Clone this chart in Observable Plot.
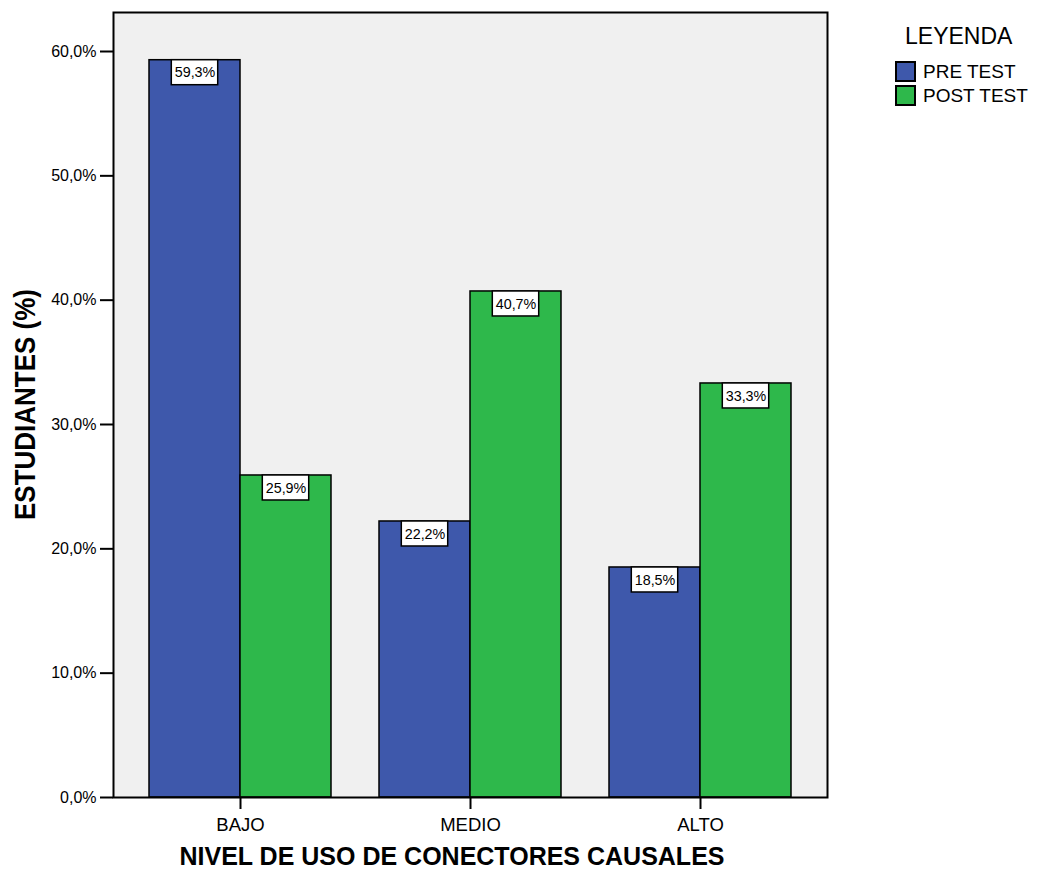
<!DOCTYPE html>
<html>
<head>
<meta charset="utf-8">
<script src="https://cdn.jsdelivr.net/npm/d3@7"></script>
<script src="https://cdn.jsdelivr.net/npm/@observablehq/plot@0.6"></script>
<style>
  html, body { margin: 0; padding: 0; background: #ffffff; }
  #wrap { position: relative; width: 1038px; height: 870px; font-family: "Liberation Sans", Arial, sans-serif; }
  #wrap svg { position: absolute; left: 0; top: 0; }
</style>
</head>
<body>
<div id="wrap"></div>
<script>
// ---- data ----
const categories = ["BAJO", "MEDIO", "ALTO"];
const seriesNames = ["PRE TEST", "POST TEST"];
const preTest = [59.3, 22.2, 18.5];
const postTest = [25.9, 40.7, 33.3];
const yTicks = [0, 10, 20, 30, 40, 50, 60];
const seriesColors = ["#3e58ab", "#2eb84b"];
const legendTitle = "LEYENDA";
const xTitle = "NIVEL DE USO DE CONECTORES CAUSALES";
const yTitle = "ESTUDIANTES (%)";

const preRows = categories.map((c, i) => ({cat: c, serie: seriesNames[0], value: preTest[i]}));
const postRows = categories.map((c, i) => ({cat: c, serie: seriesNames[1], value: postTest[i]}));
const fmt = v => v.toFixed(1).replace(".", ",") + "%";
const FONT = "'Liberation Sans', Arial, sans-serif";

// half of a category band (each group = two adjacent bars)
const HALF = 91;
const BOX_IN = 22.3;

function seriesMarks(rows, side) {
  const left = side === "left";
  return [
    Plot.barY(rows, {x: "cat", y: "value", fill: "serie", stroke: "black", strokeWidth: 1.5,
      insetLeft: left ? 0 : HALF, insetRight: left ? HALF : 0}),
    Plot.barY(rows, {x: "cat", y1: "value", y2: "value",
      insetLeft: left ? BOX_IN : HALF + BOX_IN, insetRight: left ? HALF + BOX_IN : BOX_IN,
      insetBottom: -25, fill: "white", stroke: "black", strokeWidth: 1.5}),
    Plot.text(rows, {x: "cat", y: "value", text: d => fmt(d.value),
      dx: left ? -HALF / 2 : HALF / 2, dy: 12.5, fontSize: 14.3, fill: "black", lineAnchor: "middle"})
  ];
}

const chart = Plot.plot({
  width: 1038,
  height: 870,
  marginLeft: 113,
  marginRight: 211,
  marginTop: 12,
  marginBottom: 73,
  style: {fontFamily: FONT, background: "transparent", color: "black", overflow: "visible"},
  x: {domain: categories, paddingInner: 0.2087, paddingOuter: 0.1565, label: null},
  y: {domain: [0, 63.137], label: null},
  color: {domain: seriesNames, range: seriesColors},
  marks: [
    Plot.frame({fill: "#f0f0f0"}),
    ...seriesMarks(preRows, "left"),
    ...seriesMarks(postRows, "right"),
    Plot.frame({stroke: "black", strokeWidth: 2}),
    Plot.axisY({ticks: yTicks, tickFormat: fmt, tickSize: 13, tickPadding: 4, fontSize: 16, label: null, strokeWidth: 2}),
    Plot.axisX({anchor: "bottom", tickSize: 12, tickPadding: 8, fontSize: 18.5, label: null, strokeWidth: 2})
  ]
});

const wrap = document.getElementById("wrap");
wrap.appendChild(chart);

// ---- titles and legend (overlay) ----
const svg = d3.select(wrap).append("svg")
  .attr("width", 1038).attr("height", 870)
  .style("font-family", FONT)
  .style("pointer-events", "none");

svg.append("text")
  .attr("x", 452).attr("y", 865)
  .attr("text-anchor", "middle")
  .attr("font-size", 25).attr("font-weight", "bold")
  .text(xTitle);

svg.append("text")
  .attr("transform", "translate(35,404.5) rotate(-90)")
  .attr("text-anchor", "middle")
  .attr("font-size", 30).attr("font-weight", "bold")
  .attr("textLength", 231).attr("lengthAdjust", "spacingAndGlyphs")
  .text(yTitle);

svg.append("text")
  .attr("x", 905).attr("y", 44)
  .attr("font-size", 23)
  .text(legendTitle);

const lg = svg.append("g");
seriesNames.forEach((s, i) => {
  lg.append("rect")
    .attr("x", 896).attr("y", 62 + i * 24)
    .attr("width", 19).attr("height", 19)
    .attr("fill", seriesColors[i]).attr("stroke", "black").attr("stroke-width", 2);
  lg.append("text")
    .attr("x", 923).attr("y", 78 + i * 24)
    .attr("font-size", 19)
    .text(s);
});
</script>
</body>
</html>
